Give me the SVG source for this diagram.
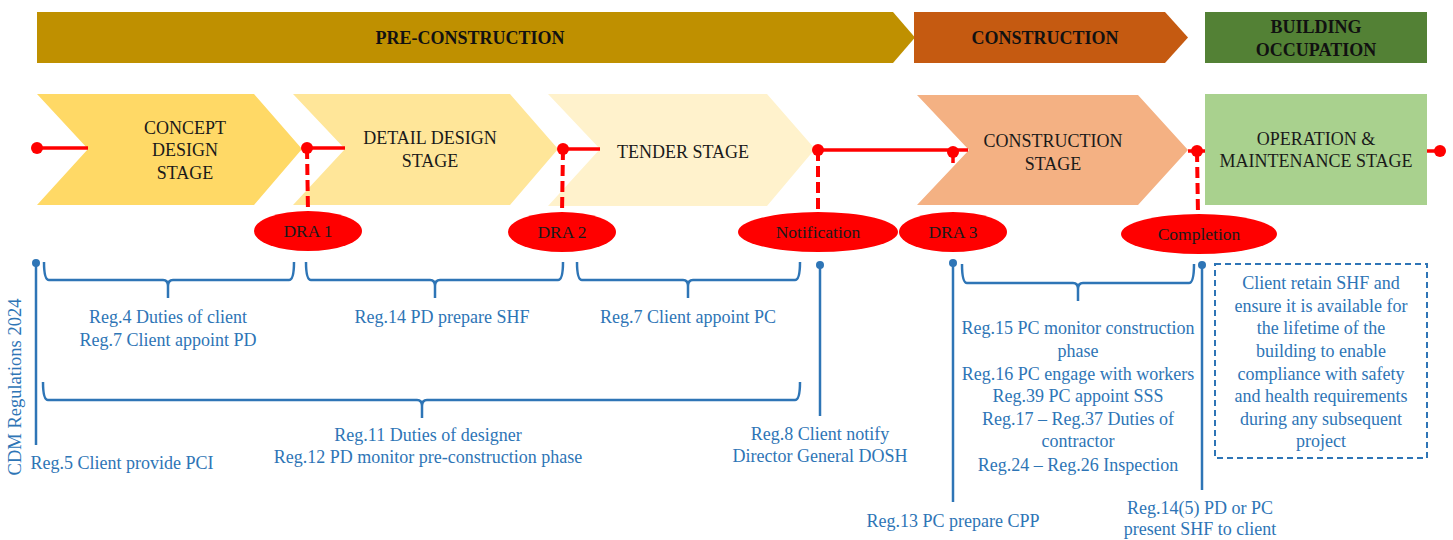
<svg xmlns="http://www.w3.org/2000/svg" width="1453" height="540" viewBox="0 0 1453 540">
<style>
.hdr{font-family:"Liberation Serif","Times New Roman",serif;font-weight:bold;font-size:18px;fill:#111;text-anchor:middle}
.stg{font-family:"Liberation Serif","Times New Roman",serif;font-size:18px;fill:#1a1a1a;text-anchor:middle}
.ell{font-family:"Liberation Serif","Times New Roman",serif;font-size:17.5px;fill:#1a1a1a;text-anchor:middle}
.blu{font-family:"Liberation Serif","Times New Roman",serif;font-size:18px;fill:#2E75B6;text-anchor:middle}
.red{stroke:#FF0000;stroke-width:3.5;fill:none}
.dash{stroke:#FF0000;stroke-width:4;fill:none;stroke-dasharray:11 5}
.rdot{fill:#FF0000}
.brace{stroke:#2E75B6;stroke-width:2.5;fill:none}
.bdot{fill:#2E75B6}
</style>

<g id="phase-preconstruction">
<polygon points="37,12 893,12 915,37.5 893,63 37,63" fill="#BF9000"/>
<text class="hdr" x="470" y="44">PRE-CONSTRUCTION</text>
</g>
<g id="phase-construction">
<polygon points="914,12 1165,12 1188,37.5 1165,63 914,63" fill="#C55A11"/>
<text class="hdr" x="1045" y="44">CONSTRUCTION</text>
</g>
<g id="phase-occupation">
<rect x="1205" y="12" width="222" height="51" fill="#538135"/>
<text class="hdr" x="1316" y="33">BUILDING</text>
<text class="hdr" x="1316" y="56">OCCUPATION</text>
</g>

<g id="stage-concept">
<polygon points="37,94 254,94 302,149 254,205 37,205 88,149" fill="#FFD966"/>
<text class="stg" x="185" y="134">CONCEPT</text>
<text class="stg" x="185" y="156">DESIGN</text>
<text class="stg" x="185" y="179">STAGE</text>
</g>
<g id="stage-detail">
<polygon points="293,94 510,94 558,149 510,205 293,205 345,149" fill="#FFE699"/>
<text class="stg" x="430" y="144">DETAIL DESIGN</text>
<text class="stg" x="430" y="167">STAGE</text>
</g>
<g id="stage-tender">
<polygon points="548,94 767,94 815,149 767,206 548,206 600,149" fill="#FFF2CC"/>
<text class="stg" x="683" y="158">TENDER STAGE</text>
</g>
<g id="stage-construction">
<polygon points="917,95 1138,95 1188,150 1138,205 917,205 969,150" fill="#F4B183"/>
<text class="stg" x="1053" y="147">CONSTRUCTION</text>
<text class="stg" x="1053" y="170">STAGE</text>
</g>
<g id="stage-operation">
<rect x="1205" y="94" width="222" height="111" fill="#A9D18E"/>
<text class="stg" x="1316" y="145">OPERATION &amp;</text>
<text class="stg" x="1316" y="167">MAINTENANCE STAGE</text>
</g>

<g id="connectors">
<line class="red" x1="37" y1="148" x2="88" y2="148"/>
<line class="red" x1="307" y1="148" x2="345" y2="148"/>
<line class="red" x1="563" y1="149" x2="600" y2="149"/>
<line class="red" x1="818" y1="150" x2="968" y2="150"/>
<line class="red" x1="1188" y1="151" x2="1205" y2="151"/>
<line class="red" x1="1427" y1="151" x2="1440" y2="151"/>
<line class="dash" x1="307" y1="148" x2="308" y2="212"/>
<line class="dash" x1="563" y1="149" x2="562" y2="213"/>
<line class="dash" x1="818" y1="150" x2="818" y2="213"/>
<line class="red" x1="953" y1="152" x2="953" y2="163" stroke-width="4"/>
<line class="dash" x1="1197" y1="151" x2="1198" y2="215"/>
<circle class="rdot" cx="37" cy="148" r="6"/>
<circle class="rdot" cx="307" cy="148" r="6"/>
<circle class="rdot" cx="563" cy="149" r="6"/>
<circle class="rdot" cx="818" cy="150" r="6"/>
<circle class="rdot" cx="953" cy="152" r="6"/>
<circle class="rdot" cx="1197" cy="151" r="6"/>
<circle class="rdot" cx="1440" cy="151" r="6"/>

<line class="brace" x1="36" y1="263" x2="36" y2="445"/>
<circle class="bdot" cx="36" cy="263" r="4"/>
<line class="brace" x1="820" y1="265" x2="820" y2="416"/>
<circle class="bdot" cx="820" cy="265" r="4"/>
<line class="brace" x1="953" y1="263" x2="953" y2="502"/>
<circle class="bdot" cx="953" cy="263" r="4"/>
<line class="brace" x1="1202" y1="265" x2="1202" y2="490"/>
<circle class="bdot" cx="1202" cy="265" r="4"/>

<path class="brace" d="M44,262 Q44,280 49,280 L163,280 Q168,280 168,286 L168,298 M168,286 Q168,280 173,280 L289,280 Q294,280 294,262"/>
<path class="brace" d="M306,262 Q306,280 311,280 L430,280 Q435,280 435,286 L435,298 M435,286 Q435,280 440,280 L558,280 Q563,280 563,262"/>
<path class="brace" d="M577,262 Q577,280 582,280 L683,280 Q688,280 688,286 L688,298 M688,286 Q688,280 693,280 L795,280 Q800,280 800,262"/>
<path class="brace" d="M43,382 Q43,400 48,400 L417,400 Q422,400 422,406 L422,418 M422,406 Q422,400 427,400 L795,400 Q800,400 800,382"/>
<path class="brace" d="M962,264 Q962,283 967,283 L1073,283 Q1078,283 1078,289 L1078,301 M1078,289 Q1078,283 1083,283 L1189,283 Q1194,283 1194,264"/>
<rect x="1215" y="264" width="212" height="194" fill="none" stroke="#2E75B6" stroke-width="2" stroke-dasharray="6 4"/>
</g>

<g id="ellipse-dra1">
<ellipse cx="308" cy="231" rx="54" ry="20" fill="#FF0000"/>
<text class="ell" x="308" y="237">DRA 1</text>
</g>
<g id="ellipse-dra2">
<ellipse cx="562" cy="232" rx="54" ry="20" fill="#FF0000"/>
<text class="ell" x="562" y="238">DRA 2</text>
</g>
<g id="ellipse-notification">
<ellipse cx="818" cy="232" rx="80" ry="20" fill="#FF0000"/>
<text class="ell" x="818" y="238">Notification</text>
</g>
<g id="ellipse-dra3">
<ellipse cx="953" cy="232" rx="54" ry="20" fill="#FF0000"/>
<text class="ell" x="953" y="238">DRA 3</text>
</g>
<g id="ellipse-completion">
<ellipse cx="1199" cy="234" rx="78" ry="20" fill="#FF0000"/>
<text class="ell" x="1199" y="240">Completion</text>
</g>

<g id="label-cdm">
<text class="blu" style="font-size:18.5px" transform="translate(21,387) rotate(-90)" x="0" y="0">CDM Regulations 2024</text>
</g>
<g id="label-reg5"><text class="blu" x="122" y="469">Reg.5 Client provide PCI</text></g>
<g id="label-reg4-7">
<text class="blu" x="168" y="323">Reg.4 Duties of client</text>
<text class="blu" x="168" y="346">Reg.7 Client appoint PD</text>
</g>
<g id="label-reg14"><text class="blu" x="442" y="323">Reg.14 PD prepare SHF</text></g>
<g id="label-reg7pc"><text class="blu" x="688" y="323">Reg.7 Client appoint PC</text></g>
<g id="label-reg11-12">
<text class="blu" x="428" y="441">Reg.11 Duties of designer</text>
<text class="blu" x="428" y="463">Reg.12 PD monitor pre-construction phase</text>
</g>
<g id="label-reg8">
<text class="blu" x="820" y="440">Reg.8 Client notify</text>
<text class="blu" x="820" y="462">Director General DOSH</text>
</g>
<g id="label-reg13"><text class="blu" x="953" y="527">Reg.13 PC prepare CPP</text></g>
<g id="label-construction-regs">
<text class="blu" x="1078" y="334">Reg.15 PC monitor construction</text>
<text class="blu" x="1078" y="357">phase</text>
<text class="blu" x="1078" y="380">Reg.16 PC engage with workers</text>
<text class="blu" x="1078" y="402">Reg.39 PC appoint SSS</text>
<text class="blu" x="1078" y="425">Reg.17 – Reg.37 Duties of</text>
<text class="blu" x="1078" y="447">contractor</text>
<text class="blu" x="1078" y="471">Reg.24 – Reg.26 Inspection</text>
</g>
<g id="label-reg14-5">
<text class="blu" x="1200" y="514">Reg.14(5) PD or PC</text>
<text class="blu" x="1200" y="535">present SHF to client</text>
</g>
<g id="label-retain">
<text class="blu" x="1321" y="289">Client retain SHF and</text>
<text class="blu" x="1321" y="312">ensure it is available for</text>
<text class="blu" x="1321" y="334">the lifetime of the</text>
<text class="blu" x="1321" y="357">building to enable</text>
<text class="blu" x="1321" y="380">compliance with safety</text>
<text class="blu" x="1321" y="402">and health requirements</text>
<text class="blu" x="1321" y="425">during any subsequent</text>
<text class="blu" x="1321" y="447">project</text>
</g>
</svg>
